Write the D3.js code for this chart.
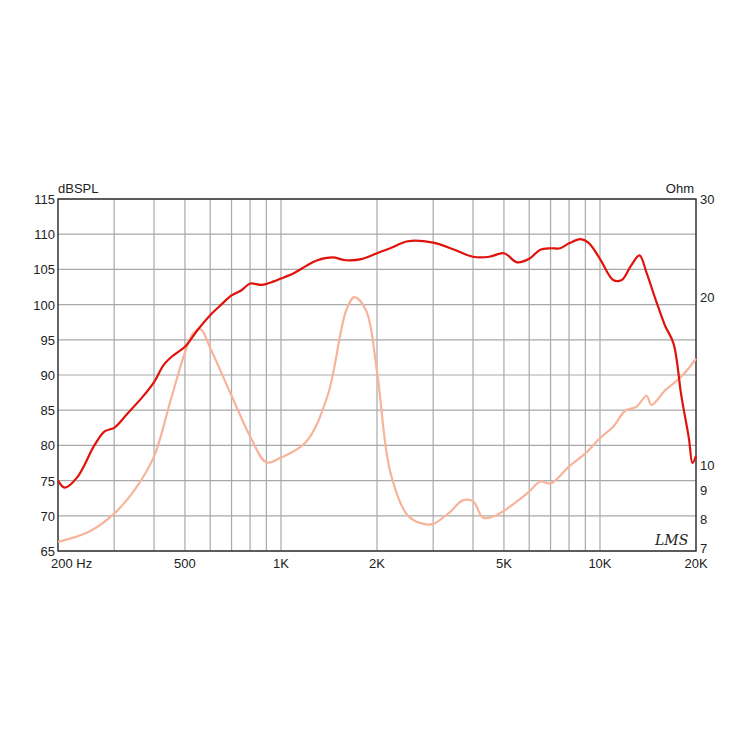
<!DOCTYPE html>
<html><head><meta charset="utf-8">
<script src="https://cdn.jsdelivr.net/npm/d3@7"></script>
<style>body{margin:0;background:#fff}text{font-family:"Liberation Sans",Arial,sans-serif;font-size:13px;fill:#222}</style>
</head><body><svg id="c" width="750" height="750"></svg>
<script>
// SPL response (Hz, dB)
const splFreq = [200,210,230,260,280,300,330,370,400,430,460,500,550,600,650,700,750,800,870,950,1000,1100,1200,1300,1450,1600,1800,2000,2200,2500,3000,3500,4000,4500,5000,5500,6000,6500,7000,7500,8000,8700,9200,10000,11000,11700,12500,13300,14000,15000,16000,17000,18000,19000,19500,20000];
const splDb = [75,74,75.5,80,82,82.5,84.5,87,89,91.5,92.8,94,96.5,98.5,100,101.3,102,103,102.8,103.3,103.7,104.5,105.5,106.3,106.7,106.3,106.5,107.3,108,109,108.8,107.8,106.8,106.8,107.3,106,106.5,107.8,108,108,108.7,109.3,108.8,106.5,103.5,103.5,105.5,107,104.5,100.5,97,94.5,87,81,77.5,78.5];
// Impedance (Hz, Ohm)
const impFreq = [200,250,300,350,400,450,500,530,560,600,700,800,900,1000,1200,1400,1600,1700,1850,2000,2200,2500,2800,3000,3400,3700,4000,4300,4700,5500,6000,6500,7000,8000,9000,10000,11000,12000,13000,14000,14500,16000,18000,20000];
const impOhm = [7.27,7.58,8.17,9.06,10.35,13.0,15.9,17.2,17.5,16.2,13.3,11.25,10.1,10.3,11.0,13.3,18.9,20.0,18.9,14.7,9.72,8.1,7.83,7.83,8.24,8.62,8.6,8.03,8.1,8.6,8.95,9.33,9.25,9.93,10.48,11.16,11.7,12.5,12.7,13.3,12.8,13.6,14.4,15.5];
const gridFreq = [300,400,500,600,700,800,900,1000,2000,3000,4000,5000,6000,7000,8000,9000,10000];
const xTicks = [[200,"200  Hz"],[500,"500"],[1000,"1K"],[2000,"2K"],[5000,"5K"],[10000,"10K"],[20000,"20K"]];
const dbTicks = [65,70,75,80,85,90,95,100,105,110,115];
const ohmTicks = [7,8,9,10,20,30];

const L = 58, R = 696, T = 199, B = 551;
const x = d3.scaleLog().domain([200, 20000]).range([L, R]);
const y = d3.scaleLinear().domain([65, 115]).range([B, T]);
const yo = d3.scaleLog().domain([7, 30]).range([B, T]);
const svg = d3.select('#c');

svg.selectAll('.vg').data(gridFreq).enter().append('line')
  .attr('x1', d => x(d)).attr('x2', d => x(d)).attr('y1', T).attr('y2', B)
  .attr('stroke', '#a9a9a9').attr('stroke-width', 1.2);
svg.selectAll('.hg').data(dbTicks).enter().append('line')
  .attr('x1', L).attr('x2', R).attr('y1', d => y(d)).attr('y2', d => y(d))
  .attr('stroke', '#a9a9a9').attr('stroke-width', 1.2);
svg.append('rect').attr('x', L).attr('y', T).attr('width', R - L).attr('height', B - T)
  .attr('fill', 'none').attr('stroke', '#333').attr('stroke-width', 1.5);

svg.selectAll('.yl').data(dbTicks).enter().append('text')
  .attr('x', L - 3).attr('y', d => y(d) + 5).attr('text-anchor', 'end').text(d => d);
svg.selectAll('.yr').data(ohmTicks).enter().append('text')
  .attr('x', R + 4).attr('y', d => yo(d) + (d === 7 ? 2 : 5)).text(d => d);
svg.selectAll('.xl').data(xTicks).enter().append('text')
  .attr('x', d => x(d[0])).attr('y', B + 17)
  .attr('text-anchor', d => d[0] === 200 ? 'start' : 'middle')
  .attr('dx', d => d[0] === 200 ? -7 : 0).text(d => d[1]);
svg.append('text').attr('x', L).attr('y', T - 6).text('dBSPL');
svg.append('text').attr('x', R - 2).attr('y', T - 6).attr('text-anchor', 'end').text('Ohm');
svg.append('text').attr('x', 655).attr('y', 545).style('font-style', 'italic')
  .style('font-family', 'DejaVu Serif').style('font-size', '14px').text('LMS');

svg.append('path').datum(d3.zip(impFreq, impOhm))
  .attr('d', d3.line().x(d => x(d[0])).y(d => yo(d[1])).curve(d3.curveCatmullRom))
  .attr('fill', 'none').attr('stroke', '#f7b49a').attr('stroke-width', 2.2);
svg.append('path').datum(d3.zip(splFreq, splDb))
  .attr('d', d3.line().x(d => x(d[0])).y(d => y(d[1])).curve(d3.curveCatmullRom))
  .attr('fill', 'none').attr('stroke', '#e0120c').attr('stroke-width', 2.2);
</script></body></html>
